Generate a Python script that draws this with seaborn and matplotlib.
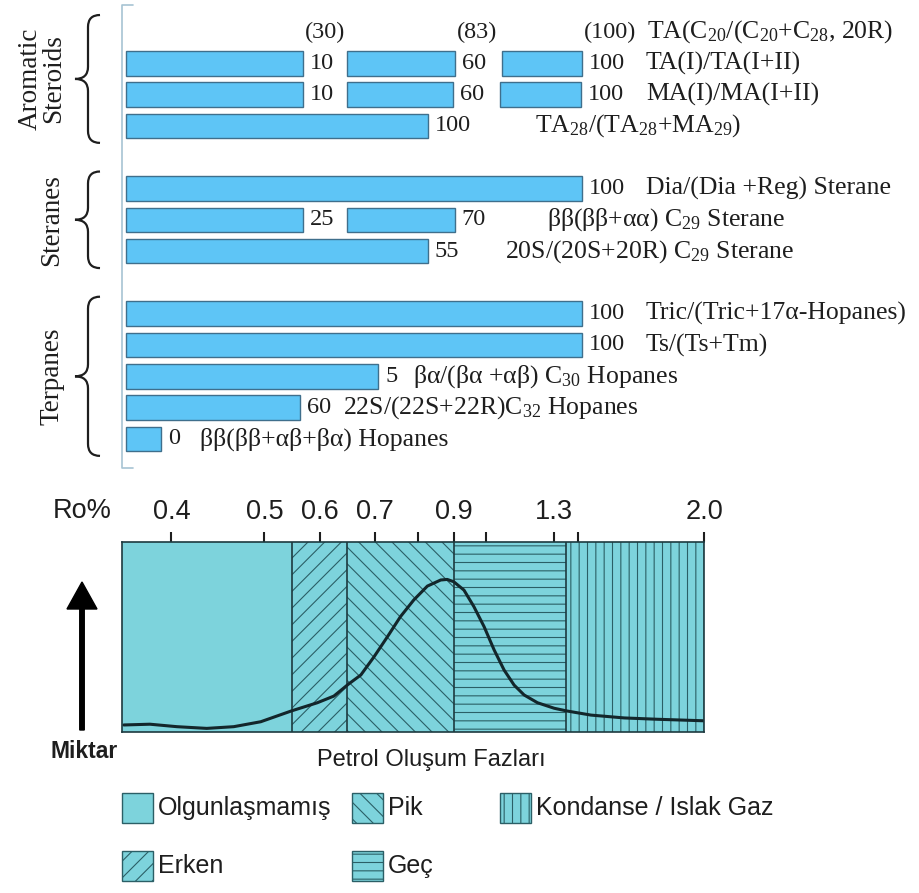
import numpy as np
import matplotlib
matplotlib.use("Agg")
import matplotlib.pyplot as plt
import seaborn as sns
from matplotlib.path import Path
from matplotlib.patches import PathPatch, Rectangle

# ---------------- data ----------------
group_names = ["Aromatic\nSteroids", "Steranes", "Terpanes"]
group_sizes = [4, 3, 5]

ratio_names = [
    r"TA(C$_{20}$/(C$_{20}$+C$_{28}$, 20R)",
    "TA(I)/TA(I+II)",
    "MA(I)/MA(I+II)",
    r"TA$_{28}$/(TA$_{28}$+MA$_{29}$)",
    "Dia/(Dia +Reg) Sterane",
    r"ββ(ββ+αα) C$_{29}$ Sterane",
    r"20S/(20S+20R) C$_{29}$ Sterane",
    "Tric/(Tric+17α-Hopanes)",
    "Ts/(Ts+Tm)",
    r"βα/(βα +αβ) C$_{30}$ Hopanes",
    r"22S/(22S+22R)C$_{32}$ Hopanes",
    "ββ(ββ+αβ+βα) Hopanes",
]
# Ro% range of every bar segment (the first ratio has values only, no bars)
seg_start = [None,
             [0.352, 0.65, 1.075],
             [0.352, 0.65, 1.066],
             [0.352],
             [0.352],
             [0.352, 0.65],
             [0.352],
             [0.352],
             [0.352],
             [0.352],
             [0.352],
             [0.352]]
seg_end = [[0.57, 0.905, 1.52],
           [0.57, 0.905, 1.52],
           [0.57, 0.90, 1.515],
           [0.83],
           [1.52],
           [0.57, 0.905],
           [0.83],
           [1.52],
           [1.52],
           [0.71],
           [0.565],
           [0.389]]
seg_value = [[30, 83, 100],
             [10, 60, 100],
             [10, 60, 100],
             [100],
             [100],
             [25, 70],
             [55],
             [100],
             [100],
             [5],
             [60],
             [0]]

# Ro% axis
ro_ticks = [0.4, 0.5, 0.6, 0.7, 0.8, 0.9, 1.0, 1.3, 1.5, 2.0]
ro_tick_labels = ["0.4", "0.5", "0.6", "0.7", "", "0.9", "", "1.3", "", "2.0"]

# petroleum generation phases
phase_names = ["Olgunlaşmamış", "Erken", "Pik", "Geç", "Kondanse / Islak Gaz"]
phase_edges = [0.347, 0.55, 0.65, 0.90, 1.40, 2.0]
phase_hatch = ["", "//", "\\\\", "--", "||"]

# generation curve (relative amount, % of panel height)
curve_ro = [0.349, 0.377, 0.406, 0.438, 0.467, 0.496, 0.549, 0.596, 0.626,
            0.653, 0.675, 0.699, 0.730, 0.760, 0.791, 0.827, 0.864, 0.882,
            0.900, 0.932, 0.963, 0.995, 1.037, 1.081, 1.125, 1.169, 1.228,
            1.303, 1.406, 1.552, 1.684, 1.816, 2.0]
curve_amount = [3.7, 4.1, 2.8, 1.9, 2.8, 5.4, 11.1, 15.4, 18.9,
                25.3, 30.0, 39.6, 50.2, 60.7, 69.5, 76.8, 80.0, 80.3,
                79.1, 74.7, 66.0, 55.4, 43.2, 32.6, 24.7, 19.5, 15.4,
                12.5, 11.1, 8.9, 7.4, 6.7, 5.9]

# ---------------- layout / style ----------------
W, H, DPI = 919, 893, 100
# non-linear Ro% scale: Ro value -> horizontal pixel position
SCALE_RO = [0.0, 0.4, 0.5, 0.6, 0.7, 0.8, 0.9, 1.0, 1.3, 1.5, 2.0, 4.0]
SCALE_PX = [-201, 171, 264, 319, 374, 417, 453, 485, 553, 577, 703, 1207]


def ro_to_px(v):
    return np.interp(np.asarray(v, dtype=float), SCALE_RO, SCALE_PX)


def px_to_ro(p):
    return np.interp(np.asarray(p, dtype=float), SCALE_PX, SCALE_RO)


ROW0_PX, ROW_PX = 32.0, 31.3
TOP_PANEL_PX = 470

BAR_FC, BAR_EC = "#5ec5f6", "#3f6f8c"
BOX_FC, HATCH_C, LINE_C = "#7dd3dc", "#2b5f66", "#1d3a3f"
TXT = "#1e1e1e"
SERIF = ["Liberation Serif", "DejaVu Serif"]
SANS = ["Liberation Sans", "DejaVu Sans"]

sns.set_style("white")
plt.rcParams["font.family"] = SANS
plt.rcParams["mathtext.fontset"] = "custom"
plt.rcParams["mathtext.rm"] = "Liberation Serif"
plt.rcParams["mathtext.it"] = "Liberation Serif:italic"
plt.rcParams["mathtext.bf"] = "Liberation Serif:bold"
plt.rcParams["hatch.linewidth"] = 0.8

fig = plt.figure(figsize=(W / DPI, H / DPI), dpi=DPI)
fig.patch.set_facecolor("white")

# overlay in pixel coordinates for braces, arrow and legend
ov = fig.add_axes([0, 0, 1, 1])
ov.set_xlim(0, W)
ov.set_ylim(H, 0)
ov.axis("off")

# ---------------- biomarker ratio bars ----------------
ax = fig.add_axes([0, 1 - TOP_PANEL_PX / H, 1, TOP_PANEL_PX / H])
ax.set_xscale("function", functions=(ro_to_px, px_to_ro))
ax.set_xlim(float(px_to_ro(0)), float(px_to_ro(W)))
ax.set_ylim((TOP_PANEL_PX - ROW0_PX) / ROW_PX, -ROW0_PX / ROW_PX)
ax.axis("off")

rows = []
i = 0
for g, n in enumerate(group_sizes):
    for k in range(n):
        rows.append(i + g)
        i += 1

name_offset_px = [65, 64, 66, 107, 64, 92, 77, 64, 64, 35, 43, 39]

for r, y in enumerate(rows):
    starts = seg_start[r]
    ends = seg_end[r]
    if starts is not None:
        ax.barh([y] * len(starts), np.array(ends) - np.array(starts), left=starts,
                height=0.78, color=BAR_FC, edgecolor=BAR_EC, linewidth=1.0)
        for e, v in zip(ends, seg_value[r]):
            ax.annotate(str(v), xy=(e, y), xytext=(5.0, 0), textcoords="offset points",
                        ha="left", va="center", fontsize=17.5, family=SERIF, color=TXT)
    else:
        for e, v in zip(ends, seg_value[r]):
            ax.annotate(f"({v})", xy=(e, y), xytext=(1.5, 0), textcoords="offset points",
                        ha="left", va="center", fontsize=17.5, family=SERIF, color=TXT)
    ax.annotate(ratio_names[r], xy=(ends[-1], y),
                xytext=(name_offset_px[r] * 0.72, 0), textcoords="offset points",
                ha="left", va="center", fontsize=18.5, family=SERIF, color=TXT)


def row_px(y):
    return ROW0_PX + y * ROW_PX


# thin bracket on the left of the bars
ov.plot([133, 122, 122, 133], [5, 5, 468, 468], color="#a7c4d3", lw=1.2)


def brace(y_top, y_bot, x_tip=75, x_stem=88, x_end=100, r=12):
    y_mid = (y_top + y_bot) / 2
    verts = [(x_end, y_top), (x_stem, y_top), (x_stem, y_top + r),
             (x_stem, y_mid - r), (x_stem, y_mid), (x_tip, y_mid),
             (x_stem, y_mid), (x_stem, y_mid + r),
             (x_stem, y_bot - r), (x_stem, y_bot), (x_end, y_bot)]
    codes = [Path.MOVETO, Path.CURVE3, Path.CURVE3, Path.LINETO,
             Path.CURVE3, Path.CURVE3, Path.CURVE3, Path.CURVE3,
             Path.LINETO, Path.CURVE3, Path.CURVE3]
    ov.add_patch(PathPatch(Path(verts, codes), fill=False, lw=1.6, edgecolor=TXT))
    return y_mid


start = 0
for g, n in enumerate(group_sizes):
    first, last = rows[start], rows[start + n - 1]
    y_mid = brace(row_px(first) - 17, row_px(last) + 17)
    xg = 42 if "\n" in group_names[g] else 52
    ov.text(xg, y_mid, group_names[g], rotation=90, ha="center", va="center",
            fontsize=19.5, family=SERIF, color=TXT, linespacing=0.95,
            multialignment="center")
    start += n

# ---------------- petroleum generation panel ----------------
bx = fig.add_axes([122 / W, 1 - 732 / H, 582 / W, 190 / H])
bx.set_xscale("function", functions=(ro_to_px, px_to_ro))
bx.set_xlim(phase_edges[0], phase_edges[-1])
bx.set_ylim(0, 100)

for k, name in enumerate(phase_names):
    bx.axvspan(phase_edges[k], phase_edges[k + 1], facecolor=BOX_FC,
               edgecolor=HATCH_C, hatch=phase_hatch[k], lw=0, zorder=0)
for e in phase_edges[1:-1]:
    bx.axvline(e, color=LINE_C, lw=1.2, zorder=2)

sns.lineplot(x=curve_ro, y=curve_amount, ax=bx, color="#13262b", lw=2.2,
             estimator=None, sort=False, zorder=3,
             solid_joinstyle="round", solid_capstyle="round")

for s in bx.spines.values():
    s.set_color(LINE_C)
    s.set_linewidth(1.2)
    s.set_zorder(4)
bx.set_yticks([])
bx.xaxis.tick_top()
bx.set_xticks(ro_ticks, labels=ro_tick_labels)
bx.tick_params(axis="x", which="major", direction="out", length=7.2, width=1.5,
               pad=5, labelsize=19.5, color=TXT, labelcolor=TXT)
bx.set_xlabel("")
bx.set_ylabel("")

ov.text(82, 511, "Ro%", ha="center", va="center", fontsize=19.5, color=TXT)
ov.text(431, 760, "Petrol Oluşum Fazları", ha="center", va="center",
        fontsize=17, color=TXT)
ov.text(84, 752, "Miktar", ha="center", va="center", fontsize=16.5,
        fontweight="bold", color=TXT)
ov.arrow(82, 730, 0, -148, width=4.5, head_width=30, head_length=27,
         length_includes_head=True, color="black")

# ---------------- legend ----------------
legend_xy = [(122, 808), (122, 866), (352, 808), (352, 866), (500, 808)]
for k, name in enumerate(phase_names):
    x0, yc = legend_xy[k]
    ov.add_patch(Rectangle((x0, yc - 15), 31, 30, facecolor=BOX_FC,
                           edgecolor=HATCH_C, hatch=phase_hatch[k], lw=1.0))
    ov.text(x0 + 36, yc, name, ha="left", va="center", fontsize=18, color=TXT)

fig.savefig("out.png", dpi=DPI, facecolor="white")
